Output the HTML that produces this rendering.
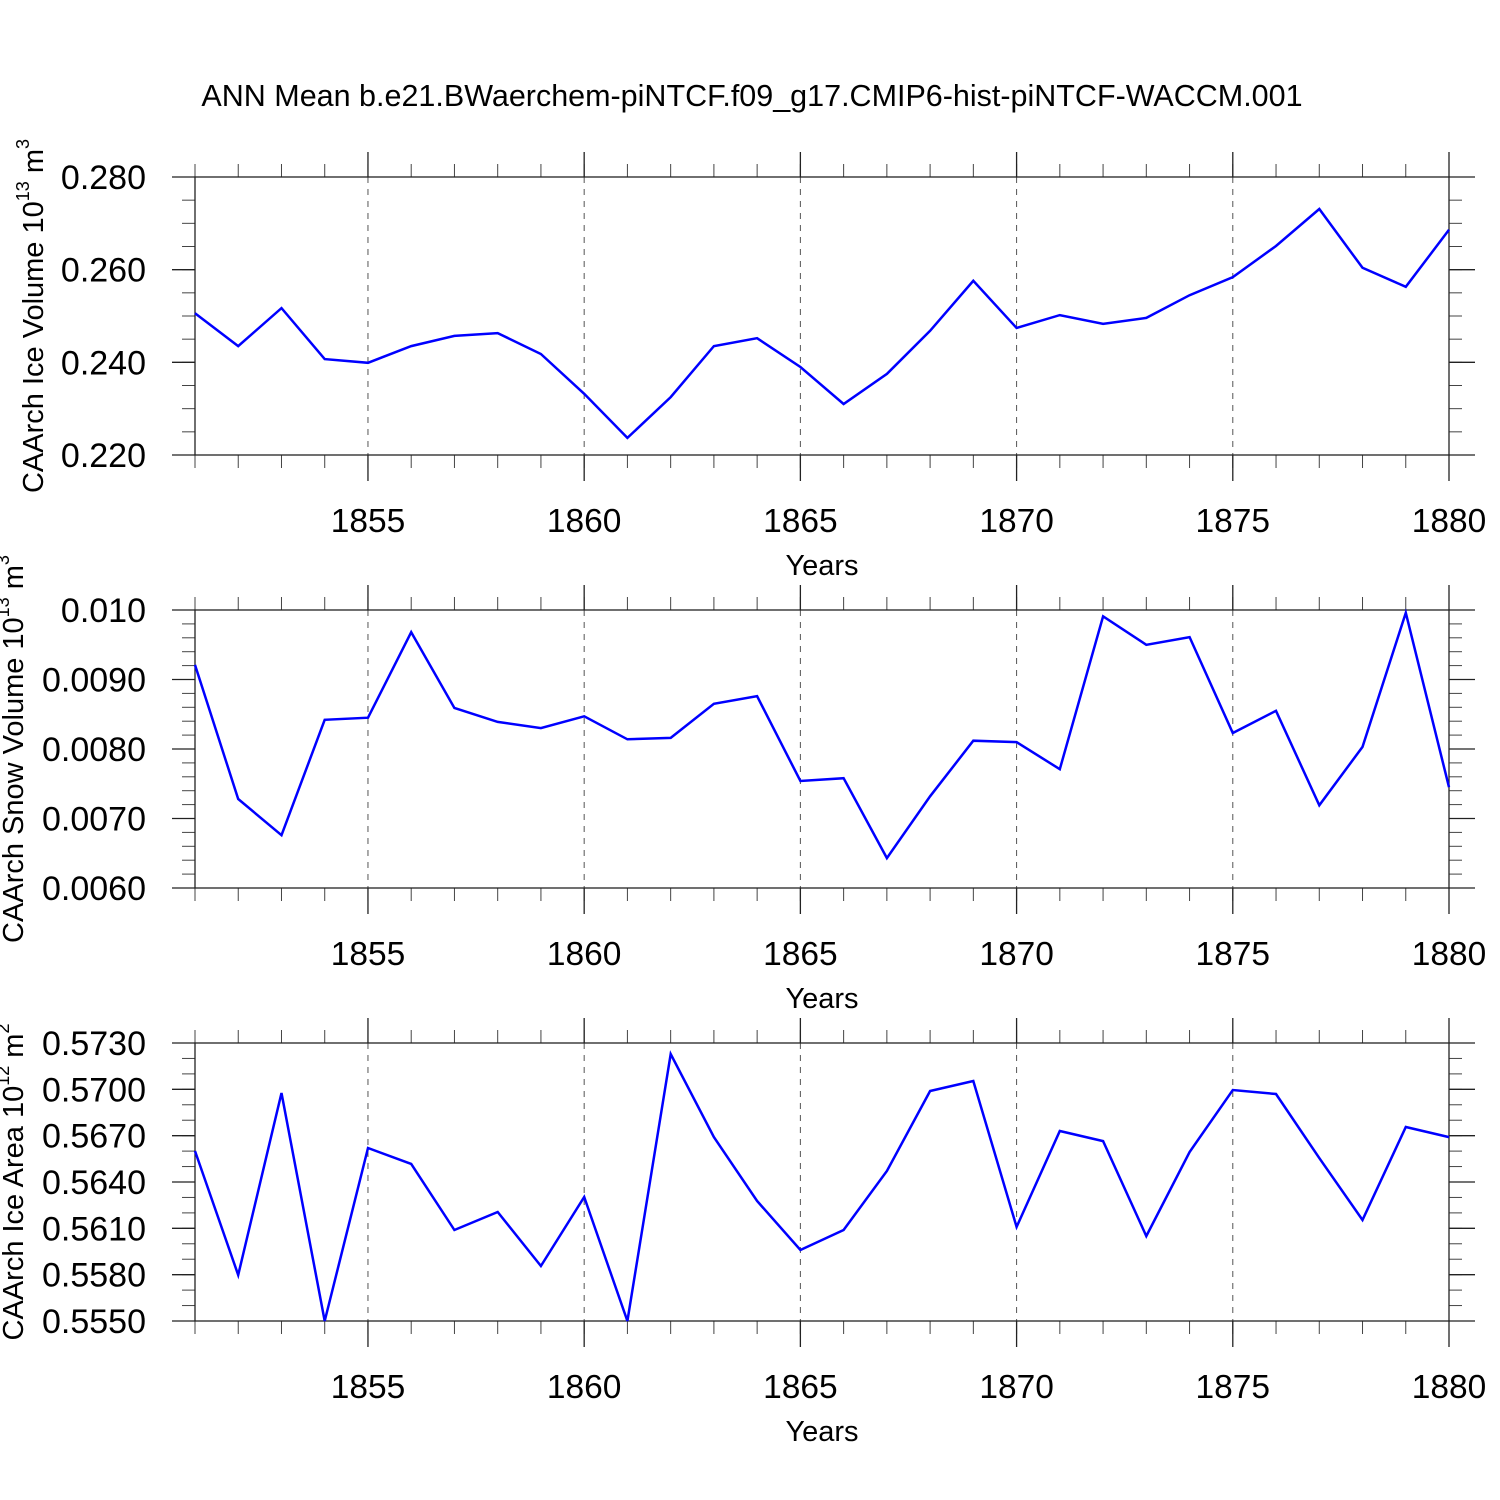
<!DOCTYPE html>
<html><head><meta charset="utf-8"><style>
html,body{margin:0;padding:0;background:#fff;}
svg{display:block;font-family:"Liberation Sans",sans-serif;}
</style></head><body>
<svg id="chart" width="1500" height="1500" viewBox="0 0 1500 1500" xmlns="http://www.w3.org/2000/svg">
<text x="752" y="106" font-size="30.5" text-anchor="middle">ANN Mean b.e21.BWaerchem-piNTCF.f09_g17.CMIP6-hist-piNTCF-WACCM.001</text>
</svg>
<script>
const years = [1851,1852,1853,1854,1855,1856,1857,1858,1859,1860,1861,1862,1863,1864,1865,1866,1867,1868,1869,1870,1871,1872,1873,1874,1875,1876,1877,1878,1879,1880];
const xTickLabels = ["1855","1860","1865","1870","1875","1880"];
const iceVolume = [0.2506,0.2435,0.2517,0.2407,0.2399,0.2435,0.2457,0.2463,0.2418,0.2332,0.2237,0.2325,0.2435,0.2452,0.2390,0.2310,0.2375,0.2468,0.2576,0.2474,0.2502,0.2483,0.2496,0.2545,0.2584,0.2651,0.2731,0.2604,0.2563,0.2686];
const snowVolume = [0.00921,0.00728,0.00676,0.00842,0.00845,0.00968,0.00859,0.00839,0.00830,0.00847,0.00814,0.00816,0.00865,0.00876,0.00754,0.00758,0.00643,0.00732,0.00812,0.00810,0.00771,0.00991,0.00950,0.00961,0.00823,0.00855,0.00719,0.00803,0.00996,0.00745];
const iceArea = [0.56601,0.55798,0.56976,0.5550,0.56620,0.56517,0.56089,0.56206,0.55856,0.56303,0.5550,0.57229,0.56691,0.56277,0.55960,0.56089,0.56471,0.56989,0.57054,0.56109,0.56730,0.56665,0.56050,0.56594,0.56996,0.56970,0.56555,0.56154,0.56756,0.56691];
const iceVolumeTicks = ["0.220","0.240","0.260","0.280"];
const snowVolumeTicks = ["0.0060","0.0070","0.0080","0.0090","0.010"];
const iceAreaTicks = ["0.5550","0.5580","0.5610","0.5640","0.5670","0.5700","0.5730"];

const NS="http://www.w3.org/2000/svg";
const svg=document.getElementById('chart');
const X0=195,X1=1449;
function mk(tag,attrs,parent){const e=document.createElementNS(NS,tag);for(const k in attrs)e.setAttribute(k,attrs[k]);(parent||svg).appendChild(e);return e;}
function xs(yr){return X0+(yr-years[0])/(years[years.length-1]-years[0])*(X1-X0);}

function panel(name,top,values,ticks,minorStep,titleParts,titleX){
  const bot=top+278;
  const ymin=parseFloat(ticks[0]),ymax=parseFloat(ticks[ticks.length-1]);
  const ys=v=>bot-(v-ymin)/(ymax-ymin)*(bot-top);
  const g=mk('g',{});
  
  
  for(const t of xTickLabels){const yr=+t; if(yr===years[years.length-1])continue;
    const l=mk('line',{x1:xs(yr),x2:xs(yr),y1:top,y2:bot,stroke:'#555','stroke-width':1,'stroke-dasharray':'6,6'},g);
    
    }
  for(const yr of years){const x=xs(yr);
    mk('line',{x1:x,x2:x,y1:top-13,y2:top,stroke:'#444','stroke-width':1},g);
    mk('line',{x1:x,x2:x,y1:bot,y2:bot+13,stroke:'#444','stroke-width':1},g);}
  for(const t of xTickLabels){const x=xs(+t);
    mk('line',{x1:x,x2:x,y1:top-25,y2:top,stroke:'#222','stroke-width':1.3},g);
    mk('line',{x1:x,x2:x,y1:bot,y2:bot+26,stroke:'#222','stroke-width':1.3},g);
    const tx=mk('text',{x:x,y:bot+77,'font-size':33.5,'text-anchor':'middle'},g);
    
    
    tx.textContent=t;}
  const n=Math.round((ymax-ymin)/minorStep);
  for(let i=0;i<=n;i++){const y=ys(ymin+i*minorStep);
    mk('line',{x1:X0-13,x2:X0,y1:y,y2:y,stroke:'#444','stroke-width':1},g);
    mk('line',{x1:X1,x2:X1+13,y1:y,y2:y,stroke:'#444','stroke-width':1},g);}
  for(const t of ticks){const y=ys(parseFloat(t));
    mk('line',{x1:X0-23,x2:X0,y1:y,y2:y,stroke:'#222','stroke-width':1.3},g);
    mk('line',{x1:X1,x2:X1+26,y1:y,y2:y,stroke:'#222','stroke-width':1.3},g);
    const tx=mk('text',{x:146,y:y+12,'font-size':34,'text-anchor':'end'},g);
    
    
    tx.textContent=t;}
  const fr=mk('rect',{x:X0,y:top,width:X1-X0,height:bot-top,fill:'none',stroke:'#222','stroke-width':1.3},g);
  
  
  const pts=values.map((v,i)=>xs(years[i]).toFixed(1)+','+ys(v).toFixed(1)).join(' ');
  const pl=mk('polyline',{points:pts,fill:'none',stroke:'#0000ff','stroke-width':2.5,'stroke-linejoin':'miter'},g);
  
  
  const xt=mk('text',{x:822,y:bot+120,'font-size':29,'text-anchor':'middle'},g);
  
  
  xt.textContent='Years';
  const cy=(top+bot)/2;
  const yt=mk('text',{x:0,y:0,'font-size':29,'text-anchor':'middle',transform:`translate(${titleX},${cy}) rotate(-90)`},g);
  
  
  const a=mk('tspan',{},yt);a.textContent=titleParts[0];
  const b=mk('tspan',{'font-size':18,dy:-14},yt);b.textContent=titleParts[1];
  const c=mk('tspan',{dy:14},yt);c.textContent='\u00a0'+titleParts[2];
  const d=mk('tspan',{'font-size':18,dy:-14},yt);d.textContent=titleParts[3];
}
panel('ice-volume',177,iceVolume,iceVolumeTicks,0.005,['CAArch Ice Volume 10','13','m','3'],43);
panel('snow-volume',610,snowVolume,snowVolumeTicks,0.0002,['CAArch Snow Volume 10','13','m','3'],23);
panel('ice-area',1043,iceArea,iceAreaTicks,0.001,['CAArch Ice Area 10','12','m','2'],23);
</script>
</body></html>
